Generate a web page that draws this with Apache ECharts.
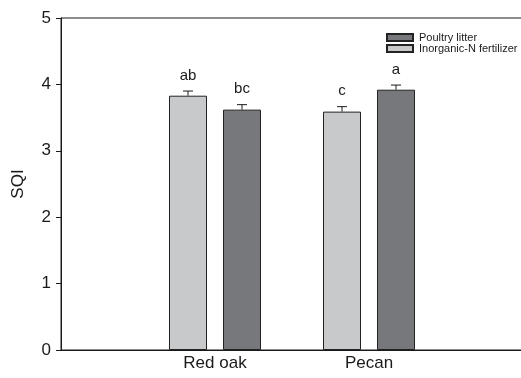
<!DOCTYPE html>
<html>
<head>
<meta charset="utf-8">
<script src="https://cdn.jsdelivr.net/npm/echarts@6/dist/echarts.min.js"></script>
<style>
html,body{margin:0;padding:0;background:#fff;}
#chart{width:521px;height:378px;}
</style>
</head>
<body>
<div id="chart"></div>
<script>
// ---- data ----
const categories = ['Red oak', 'Pecan'];
const inorganicValues = [3.83, 3.59];
const inorganicErrors = [0.07, 0.075];
const inorganicLetters = ['ab', 'c'];
const poultryValues = [3.62, 3.92];
const poultryErrors = [0.075, 0.07];
const poultryLetters = ['bc', 'a'];
const yTicks = [0, 1, 2, 3, 4, 5];

// ---- styling constants ----
const FONT = 'Liberation Sans, Arial, sans-serif';
const BAR_W = 38;
const BAR_GAP_PX = 16;
const OFFSET = (BAR_W + BAR_GAP_PX) / 2;
const LIGHT = '#c8c9cb';
const DARK = '#77787b';
const INK = '#1a1a1a';

// padded axis so the two groups sit at 1/3 and 2/3 of the frame
const axisCats = [''].concat(categories, ['']);
const pad = arr => [null].concat(arr, [null]);

function errData(values, errs, letters) {
  return values.map((v, i) => [i + 1, v, errs[i], letters[i]]);
}

function errSeries(name, values, errs, letters, dir) {
  return {
    type: 'custom',
    name: name + ' err',
    data: errData(values, errs, letters),
    encode: { x: 0, y: 1 },
    z: 5,
    silent: true,
    renderItem: function (params, api) {
      const x = api.value(0), v = api.value(1), e = api.value(2);
      const pTop = api.coord([x, v]);
      const pErr = api.coord([x, v + e]);
      const cx = pTop[0] + dir * OFFSET;
      const letter = letters[params.dataIndex];
      return {
        type: 'group',
        children: [
          { type: 'line', shape: { x1: cx, y1: pTop[1], x2: cx, y2: pErr[1] }, style: { stroke: INK, lineWidth: 1 } },
          { type: 'line', shape: { x1: cx - 5, y1: pErr[1], x2: cx + 5, y2: pErr[1] }, style: { stroke: INK, lineWidth: 1 } },
          { type: 'text', style: { text: letter, x: cx, y: pErr[1] - 8, textAlign: 'center', textVerticalAlign: 'bottom', fontSize: 15, fontFamily: FONT, fill: INK } }
        ]
      };
    }
  };
}

const chart = echarts.init(document.getElementById('chart'), null, { renderer: 'canvas' });
chart.setOption({
  animation: false,
  backgroundColor: '#fff',
  grid: { left: 61, width: 462, top: 18, bottom: 28, outerBoundsMode: 'none', containLabel: false, show: true, borderColor: INK, borderWidth: 1, backgroundColor: 'transparent' },
  legend: {
    orient: 'vertical',
    left: 386,
    top: 32,
    padding: 0,
    icon: 'rect',
    itemWidth: 26,
    itemHeight: 7,
    itemGap: 0,
    data: ['Poultry litter', 'Inorganic-N fertilizer'],
    textStyle: { fontSize: 11, fontFamily: FONT, color: INK, lineHeight: 10, padding: [0, 0, 0, 1] },
    selectedMode: false
  },
  xAxis: {
    type: 'category',
    data: axisCats,
    boundaryGap: false,
    axisLine: { lineStyle: { color: INK, width: 1 } },
    axisTick: { show: false },
    axisLabel: { fontSize: 17, fontFamily: FONT, color: INK, margin: 5, interval: 0 },
    splitLine: { show: false }
  },
  yAxis: {
    type: 'value',
    min: yTicks[0],
    max: yTicks[yTicks.length - 1],
    interval: 1,
    name: 'SQI',
    nameLocation: 'middle',
    nameGap: 34,
    nameTextStyle: { fontSize: 17, fontFamily: FONT, color: INK },
    axisLine: { show: true, lineStyle: { color: INK, width: 1 } },
    axisTick: { show: true, length: 5, lineStyle: { color: INK } },
    axisLabel: { fontSize: 17, fontFamily: FONT, color: INK, margin: 10 },
    splitLine: { show: false }
  },
  series: [
    {
      type: 'bar',
      name: 'Inorganic-N fertilizer',
      data: pad(inorganicValues),
      barWidth: BAR_W,
      barGap: (BAR_GAP_PX / BAR_W * 100) + '%',
      itemStyle: { color: LIGHT, borderColor: '#222', borderWidth: 1 }
    },
    {
      type: 'bar',
      name: 'Poultry litter',
      data: pad(poultryValues),
      barWidth: BAR_W,
      barGap: (BAR_GAP_PX / BAR_W * 100) + '%',
      itemStyle: { color: DARK, borderColor: '#222', borderWidth: 1 }
    },
    errSeries('Inorganic-N fertilizer', inorganicValues, inorganicErrors, inorganicLetters, -1),
    errSeries('Poultry litter', poultryValues, poultryErrors, poultryLetters, 1)
  ]
});
</script>
</body>
</html>
